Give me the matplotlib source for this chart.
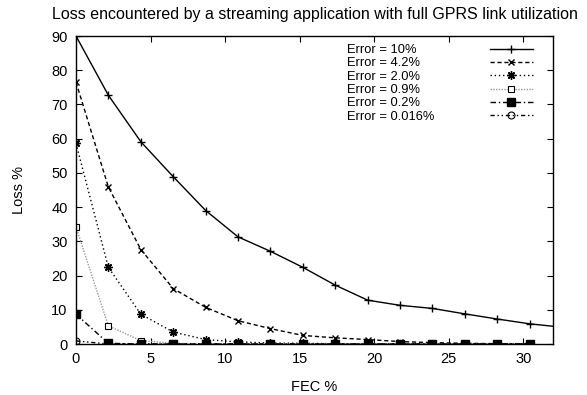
import numpy as np
import matplotlib
matplotlib.use("Agg")
from matplotlib import pyplot as plt

plt.rcParams['font.family'] = ['Liberation Sans', 'DejaVu Sans']

# FEC % values (k redundant packets out of 46)
fec = [0.0, 2.17, 4.35, 6.52, 8.70, 10.87, 13.04, 15.22, 17.39, 19.57,
       21.74, 23.91, 26.09, 28.26, 30.43, 32.61]

loss_10 = [90.0, 72.7, 59.1, 48.9, 39.0, 31.3, 27.1, 22.4, 17.2, 12.8,
           11.3, 10.4, 8.8, 7.3, 5.9, 4.9]
loss_42 = [76.5, 45.9, 27.6, 16.2, 10.7, 6.8, 4.5, 2.5, 1.8, 1.3,
           0.7, 0.4, 0.2, 0.1, 0.1]
loss_20 = [58.6, 22.4, 8.7, 3.5, 1.3, 0.6, 0.3, 0.2, 0.1, 0.0,
           0.0, 0.0, 0.0, 0.0, 0.0]
loss_09 = [34.2, 5.3, 1.0, 0.2, 0.0, 0.0, 0.0, 0.0, 0.0, 0.0,
           0.0, 0.0, 0.0, 0.0, 0.0]
loss_02 = [8.7, 0.2, 0.0, 0.0, 0.0, 0.0, 0.0, 0.0, 0.0, 0.0,
           0.0, 0.0, 0.0, 0.0, 0.0]
loss_0016 = [0.9, 0.0, 0.0, 0.0, 0.0, 0.0, 0.0, 0.0, 0.0, 0.0,
             0.0, 0.0, 0.0, 0.0, 0.0]

labels = ["Error = 10%", "Error = 4.2%", "Error = 2.0%",
          "Error = 0.9%", "Error = 0.2%", "Error = 0.016%"]

fig = plt.figure(figsize=(5.87, 3.95), dpi=100)
ax = fig.add_axes([76 / 587, 1 - 344 / 395, 477 / 587, 308 / 395])

lines = []
lines += ax.plot(fec, loss_10, color='black', lw=1.0, ls='-', marker='+',
                 ms=6, mew=1.0)
lines += ax.plot(fec[:15], loss_42, color='black', lw=1.0, ls=(0, (3, 2)),
                 marker='x', ms=5, mew=1.0)
lines += ax.plot(fec[:15], loss_20, color='black', lw=1.0, ls=(0, (1, 2)),
                 marker=(8, 2, 0), ms=6, mew=1.0)
lines += ax.plot(fec[:15], loss_09, color='#999999', lw=1.0, ls=(0, (1, 1)),
                 marker='s', ms=5, mfc='white', mec='black', mew=0.8)
lines += ax.plot(fec[:15], loss_02, color='black', lw=1.0,
                 ls=(0, (4, 2, 1, 2)), marker='s', ms=6, mfc='black',
                 mec='black')
lines += ax.plot(fec[:15], loss_0016, color='black', lw=1.0,
                 ls=(0, (3, 2, 1, 2, 1, 2)), marker='o', ms=5, mfc='none',
                 mec='black', mew=0.8)

ax.set_xlim(0, 32)
ax.set_ylim(0, 90)
ax.set_xticks(range(0, 31, 5))
ax.set_yticks(range(0, 91, 10))
ax.tick_params(direction='in', length=4, width=0.8, top=True, right=True,
               labelsize=10.5, pad=6)
for s in ax.spines.values():
    s.set_linewidth(1.0)

ax.set_title("Loss encountered by a streaming application with full GPRS link utilization",
             fontsize=11.5, pad=12)
ax.set_xlabel("FEC %", fontsize=10.5, labelpad=10)
ax.set_ylabel("Loss %", fontsize=10.5, labelpad=18)

# gnuplot-like key: labels left-aligned, samples in a separate column
key_font = 9.3
key_gap = 0.1
leg_txt = ax.legend(lines, labels, loc='upper left',
                    bbox_to_anchor=(347 / 587, 1 - 44 / 395),
                    bbox_transform=fig.transFigure, frameon=False,
                    handlelength=0, handletextpad=0, fontsize=key_font,
                    labelspacing=key_gap, borderpad=0, borderaxespad=0)
for h in leg_txt.legend_handles:
    h.set_visible(False)
ax.add_artist(leg_txt)

ax.legend(lines, [''] * len(lines), loc='upper left',
          bbox_to_anchor=(490 / 587, 1 - 44 / 395),
          bbox_transform=fig.transFigure, frameon=False, numpoints=1,
          handlelength=3.3, handletextpad=0, fontsize=key_font,
          labelspacing=key_gap, borderpad=0, borderaxespad=0)

fig.savefig("out.png", dpi=100)
